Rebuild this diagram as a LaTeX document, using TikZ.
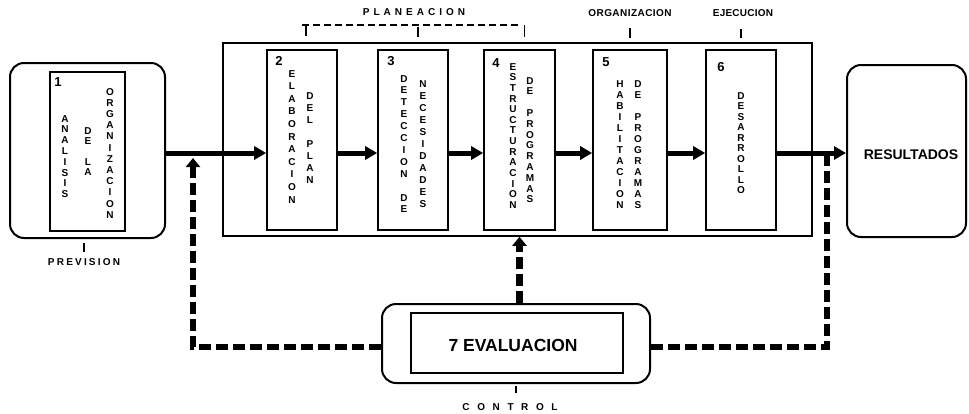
\documentclass[tikz,border=0pt]{standalone}
\usepackage{fontspec}
\setmainfont{Liberation Sans}
\usetikzlibrary{arrows.meta}
\makeatletter
\def\spc@loop#1{\ifx#1\relax\else#1\kern\spcamount\expandafter\spc@loop\fi}
\newcommand\spctext[2]{\def\spcamount{#1}\spc@loop#2\relax\kern-\spcamount}
\makeatother
\tikzset{
  box/.style={draw, line width=1.6pt, inner sep=0pt},
  rbox/.style={draw, line width=2pt, rounded corners=14pt, inner sep=0pt},
  flow/.style={line width=5pt, -{Triangle[length=12pt,width=13pt]}},
  fb/.style={line width=6.5pt, dash pattern=on 12pt off 5pt},
  fbtip/.style={-{Triangle[length=9pt,width=14pt]}},
  tick/.style={line width=1.2pt},
  vlet/.style={font=\fontsize{10}{#1}\selectfont\bfseries, align=center, inner sep=0pt, anchor=north},
  num/.style={font=\fontsize{13}{13}\selectfont\bfseries, inner sep=0pt},
  lab/.style={font=\fontsize{10}{10}\selectfont\bfseries, inner sep=0pt},
}
\begin{document}
\begin{tikzpicture}[x=1pt, y=-1pt]
\useasboundingbox (0,0) rectangle (969,413);
% frame
\node[box, minimum width=589pt, minimum height=193pt] (frame) at (517.5,139.5) {};
% box 1
\node[rbox, minimum width=155pt, minimum height=175pt] (b1o) at (87.5,150.5) {};
\node[box, minimum width=75pt, minimum height=159pt] (b1) at (87.5,151.5) {};
\node[num] (n1) at (58,82) {1};
\node[vlet=10.8] (t1a) at (65,115) {A\\N\\A\\L\\I\\S\\I\\S};
\node[vlet=10.4] (t1b) at (88,127) {D\\E\\ \\L\\A};
\node[vlet=11.2] (t1c) at (110,88) {O\\R\\G\\A\\N\\I\\Z\\A\\C\\I\\O\\N};
% boxes 2-6
\node[box, minimum width=70pt, minimum height=180pt] (b2) at (302,140) {};
\node[box, minimum width=70pt, minimum height=180pt] (b3) at (413,140) {};
\node[box, minimum width=71pt, minimum height=180pt] (b4) at (519.5,140) {};
\node[box, minimum width=74pt, minimum height=180pt] (b5) at (630,140) {};
\node[box, minimum width=70pt, minimum height=180pt] (b6) at (741,140) {};
\node[num] (n2) at (279,61) {2};
\node[num] (n3) at (391,61) {3};
\node[num] (n4) at (496,63) {4};
\node[num] (n5) at (606,62) {5};
\node[num] (n6) at (721,67) {6};
\node[vlet=12.6] (t2a) at (292,70) {E\\L\\A\\B\\O\\R\\A\\C\\I\\O\\N};
\node[vlet=12.1] (t2b) at (310,92) {D\\E\\L\\ \\P\\L\\A\\N};
\node[vlet=11.9] (t3a) at (404,75) {D\\E\\T\\E\\C\\C\\I\\O\\N\\ \\D\\E};
\node[vlet=12.05] (t3b) at (423,80) {N\\E\\C\\E\\S\\I\\D\\A\\D\\E\\S};
\node[vlet=10.65] (t4a) at (513,63) {E\\S\\T\\R\\U\\C\\T\\U\\R\\A\\C\\I\\O\\N};
\node[vlet=10.8] (t4b) at (530,77) {D\\E\\ \\P\\R\\O\\G\\R\\A\\M\\A\\S};
\node[vlet=11.05] (t5a) at (620,80) {H\\A\\B\\I\\L\\I\\T\\A\\C\\I\\O\\N};
\node[vlet=11.0] (t5b) at (638,80) {D\\E\\ \\P\\R\\O\\G\\R\\A\\M\\A\\S};
\node[vlet=10.5] (t6a) at (741,92) {D\\E\\S\\A\\R\\R\\O\\L\\L\\O};
% resultados
\node[rbox, minimum width=119pt, minimum height=172pt] (res) at (906.5,151) {};
\node[font=\fontsize{14}{14}\selectfont\bfseries, inner sep=0pt] (rest) at (911,155) {RESULTADOS};
% evaluacion
\node[rbox, minimum width=268pt, minimum height=79pt] (ev) at (516,343.5) {};
\node[box, minimum width=212pt, minimum height=60pt] (evi) at (517,343) {};
\node[font=\fontsize{17.5}{17.5}\selectfont\bfseries, inner sep=0pt] (evt) at (513,345) {7 EVALUACION};
% labels
\node[lab] (plan) at (414,12) {\spctext{4pt}{PLANEACION}};
\node[lab] (org) at (630,13) {\spctext{0.45pt}{ORGANIZACION}};
\node[lab] (eje) at (743,13) {\spctext{0.25pt}{EJECUCION}};
\node[lab] (prev) at (84,262) {\spctext{2.2pt}{PREVISION}};
\node[lab] (ctrl) at (510,407) {\spctext{7.6pt}{CONTROL}};
% ticks
\draw[tick, dash pattern=on 7pt off 4pt] (b2.north |- 0,25) -- (b4.north |- 0,25);
\draw[tick] ([xshift=4pt]b2.north |- 0,25) -- ([xshift=4pt]b2.north |- 0,36);
\draw[tick] ([xshift=5pt]b3.north |- 0,27) -- ([xshift=5pt]b3.north |- 0,37);
\draw[tick] ([xshift=5pt]b4.north |- 0,25) -- ([xshift=5pt]b4.north |- 0,37);
\draw[tick] (b5.north |- 0,28) -- (b5.north |- 0,38);
\draw[tick] (b6.north |- 0,29) -- (b6.north |- 0,38);
\draw[tick] (prev.north |- 0,243) -- (prev.north |- 0,252);
\draw[tick] (ev.south |- 0,386) -- (ev.south |- 0,393);
% main flow
\coordinate (flowy) at (0,153);
\draw[flow] (b1o.east |- flowy) -- (b2.west |- flowy);
\draw[flow] (b2.east |- flowy) -- (b3.west |- flowy);
\draw[flow] (b3.east |- flowy) -- (b4.west |- flowy);
\draw[flow] (b4.east |- flowy) -- (b5.west |- flowy);
\draw[flow] (b5.east |- flowy) -- (b6.west |- flowy);
\draw[flow] (b6.east |- flowy) -- (res.west |- flowy);
% feedback
\coordinate (fbL) at (193,347);
\coordinate (fbLtop) at (193,158);
\coordinate (fbR) at (827,347);
\draw[fb, fbtip] (ev.west |- fbL) -- (fbL) -- (fbLtop);
\draw[fb, fbtip] (b4.south |- ev.north) -- (b4.south |- frame.south);
\draw[fb] (ev.east |- fbR) -- (fbR) -- (fbR |- flowy);
\end{tikzpicture}
\end{document}
